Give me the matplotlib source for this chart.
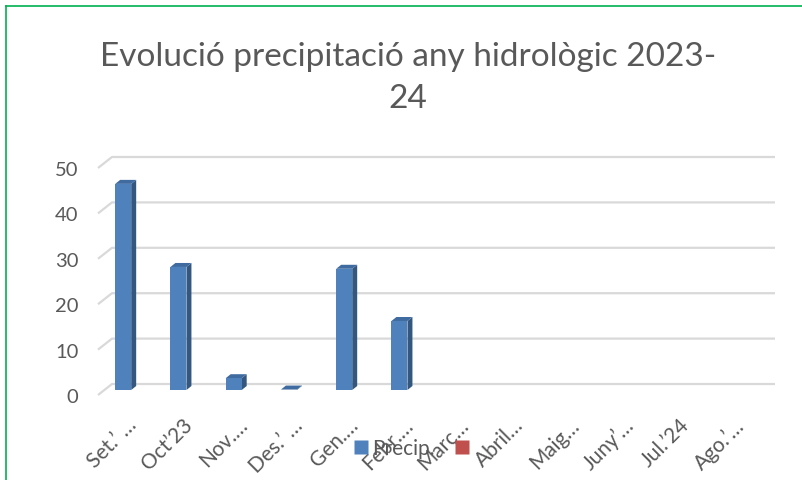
# -*- coding: utf-8 -*-
# precipitation chart, fake 3D columns like the Excel one
import numpy as np
import matplotlib
matplotlib.use('Agg')
from matplotlib import pyplot as plt
from matplotlib.patches import Polygon, Rectangle
from matplotlib.lines import Line2D

plt.rcParams['font.family'] = ['Lato', 'DejaVu Sans']

months = ['Set.’ …', 'Oct’23', 'Nov.…', 'Des.’ …', 'Gen.…', 'Febr.…',
          'Març…', 'Abril…', 'Maig…', 'Juny’…', 'Jul.’24', 'Ago.’…']
precip = [45.4, 27.1, 2.6, 0.1, 26.7, 15.2,
          np.nan, np.nan, np.nan, np.nan, np.nan, np.nan]
y_ticks = [0, 10, 20, 30, 40, 50]

title_txt = 'Evolució precipitació any hidrològic 2023-\n24'

grey = '#595959'
blue = '#4F81BD'
blue_side = '#34577F'
blue_top = '#3F6BA0'
red = '#C0504D'

# 3D offsets (category units / value units)
back_dx, back_dy = 0.253, 2.42   # back wall
mid_dx, mid_dy = 0.116, 1.1      # where the bars stand
bar_dx, bar_dy = 0.09, 0.88      # depth of a bar
bar_w = 0.29
bar_shift = -0.16                # first series of the cluster

fig = plt.figure(figsize=(8.02, 4.81), dpi=100)
ax = fig.add_axes([98 / 802, (481 - 396) / 481, 677 / 802, 238 / 481])
ax.set_xlim(-0.5, 11.5 + back_dx)
ax.set_ylim(0, 50 + back_dy)

n = len(months)
# gridlines: side wall diagonal + back wall line
for g in y_ticks:
    ax.plot([-0.5, -0.5 + back_dx, n - 0.5 + back_dx], [g, g + back_dy, g + back_dy],
            color='#D9D9D9', lw=1.6, solid_capstyle='butt', zorder=1, clip_on=False)

# bars
for i, v in enumerate(precip):
    if np.isnan(v):
        continue
    xc = i + bar_shift + mid_dx
    x0, x1 = xc - bar_w / 2, xc + bar_w / 2
    y0, y1 = mid_dy, mid_dy + v
    ax.add_patch(Polygon([(x1, y0), (x1 + bar_dx, y0 + bar_dy), (x1 + bar_dx, y1 + bar_dy), (x1, y1)],
                         closed=True, fc=blue_side, ec='none', zorder=3))
    ax.add_patch(Polygon([(x0, y1), (x0 + bar_dx, y1 + bar_dy), (x1 + bar_dx, y1 + bar_dy), (x1, y1)],
                         closed=True, fc=blue_top, ec='none', zorder=3))
    if v > 0.5:
        ax.add_patch(Rectangle((x0, y0), bar_w, v, fc=blue, ec='none', zorder=4))

for s in ax.spines.values():
    s.set_visible(False)
ax.set_yticks(y_ticks)
ax.set_yticklabels([str(t) for t in y_ticks], fontsize=14.5, color=grey)
ax.tick_params(axis='y', length=0, pad=14)

ax.set_xticks(np.arange(n) + 0.02)
ax.set_xticklabels(months, rotation=45, ha='right', rotation_mode='anchor',
                   fontsize=15, color=grey)
ax.tick_params(axis='x', length=0, pad=14)

# title
fig.text(408 / 802, 1 - 42 / 481, title_txt, ha='center', va='top', fontsize=24,
         color=grey, linespacing=1.5)

# legend
handles = [Line2D([], [], ls='none', marker='s', ms=10.5, mfc=blue, mec='none'),
           Line2D([], [], ls='none', marker='s', ms=10.5, mfc=red, mec='none')]
leg = fig.legend(handles, ['Precip.', ''], ncol=2, frameon=False, fontsize=15,
                 loc='center left', bbox_to_anchor=(354 / 802, 1 - 449 / 481),
                 borderpad=0, borderaxespad=0, handletextpad=0.15, columnspacing=1.0,
                 handlelength=0.7, labelcolor=grey)

# green frame of the chart object
fig.add_artist(Line2D([6 / 802, 6 / 802], [0, 1 - 7 / 481], color='#00B050', lw=1.2))
fig.add_artist(Line2D([6 / 802, 1], [1 - 7 / 481, 1 - 7 / 481], color='#00B050', lw=1.2))

fig.savefig('out.png', dpi=100)
